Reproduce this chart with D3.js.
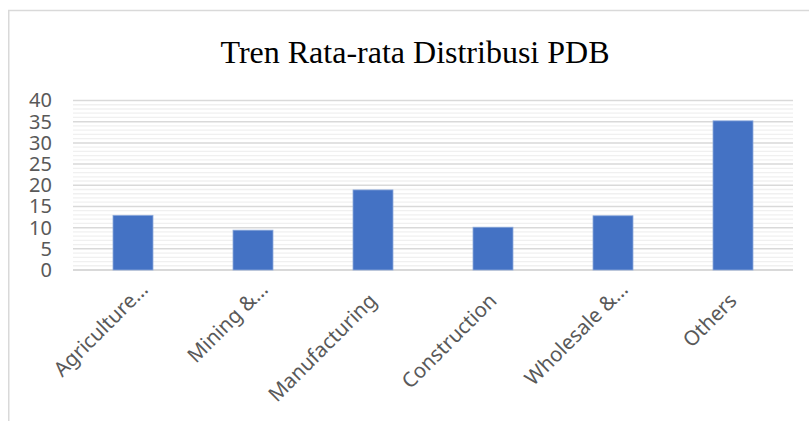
<!DOCTYPE html>
<html>
<head>
<meta charset="utf-8">
<script src="https://cdn.jsdelivr.net/npm/d3@7"></script>
<style>
  body { margin: 0; background: #fff; }
  svg { display: block; }
</style>
</head>
<body>
<script>
var categories = ["Agriculture…", "Mining &…", "Manufacturing", "Construction", "Wholesale &…", "Others"];
var values = [12.9, 9.4, 18.9, 10.1, 12.8, 35.2];
var yTicks = [0, 5, 10, 15, 20, 25, 30, 35, 40];
var title = "Tren Rata-rata Distribusi PDB";

var width = 809, height = 421;
var plot = {left: 73, right: 793, top: 100.5, bottom: 270};

var svg = d3.select("body").append("svg")
    .attr("width", width)
    .attr("height", height);

// chart frame (only top and left edges are visible)
svg.append("line")
    .attr("x1", 8).attr("x2", width).attr("y1", 10.5).attr("y2", 10.5)
    .style("stroke", "#d9d9d9").style("stroke-width", 1.5);
svg.append("line")
    .attr("x1", 8.75).attr("x2", 8.75).attr("y1", 10).attr("y2", height)
    .style("stroke", "#d9d9d9").style("stroke-width", 1.5);

svg.append("text")
    .attr("x", 415)
    .attr("y", 63)
    .attr("text-anchor", "middle")
    .style("font-family", "'Liberation Serif', 'Times New Roman', serif")
    .style("font-size", "32px")
    .style("fill", "#000")
    .text(title);

var x = d3.scaleBand()
    .domain(categories)
    .range([plot.left, plot.right])
    .paddingInner(2 / 3)
    .paddingOuter(1 / 3);

var y = d3.scaleLinear()
    .domain([0, 40])
    .range([plot.bottom, plot.top]);

// minor gridlines every 1
svg.append("g")
    .selectAll("line")
    .data(d3.range(0, 41).filter(function(d) { return d % 5 != 0; }))
    .enter().append("line")
    .attr("x1", plot.left).attr("x2", plot.right)
    .attr("y1", function(d) { return y(d); })
    .attr("y2", function(d) { return y(d); })
    .style("stroke", "#f0f0f0")
    .style("stroke-width", 1.3);

// major gridlines
svg.append("g")
    .selectAll("line")
    .data(yTicks)
    .enter().append("line")
    .attr("x1", plot.left).attr("x2", plot.right)
    .attr("y1", function(d) { return y(d); })
    .attr("y2", function(d) { return y(d); })
    .style("stroke", "#d9d9d9")
    .style("stroke-width", function(d) { return d == 0 ? 1.8 : 1.5; });

svg.append("g")
    .selectAll("rect")
    .data(values)
    .enter().append("rect")
    .attr("x", function(d, i) { return x(categories[i]); })
    .attr("width", x.bandwidth())
    .attr("y", function(d) { return y(d); })
    .attr("height", function(d) { return y(0) - y(d); })
    .style("fill", "#4472c4")
    .style("stroke", "#8eaadb")
    .style("stroke-width", 0.8);

var yAxis = d3.axisLeft(y).tickValues(yTicks).tickSize(0).tickPadding(0);
var gy = svg.append("g")
    .attr("transform", "translate(52,0)")
    .call(yAxis);
gy.select(".domain").remove();
gy.selectAll("text")
    .style("font-family", "'Noto Sans', 'Open Sans', sans-serif")
    .style("font-size", "20px")
    .style("fill", "#595959");

var xAxis = d3.axisBottom(x).tickSize(0);
var gx = svg.append("g")
    .attr("transform", "translate(0," + plot.bottom + ")")
    .call(xAxis);
gx.select(".domain").remove();
gx.selectAll("text")
    .style("font-family", "'Noto Sans', 'Open Sans', sans-serif")
    .style("font-size", "20.5px")
    .style("fill", "#595959")
    .style("text-anchor", "end")
    .attr("y", 0)
    .attr("dy", 0)
    .attr("transform", function(d) {
        var dx = /…$/.test(d) ? 16 : 0;
        return "translate(" + (5 + dx * 0.707) + "," + (32 - dx * 0.707) + ") rotate(-45)";
    });
</script>
</body>
</html>
